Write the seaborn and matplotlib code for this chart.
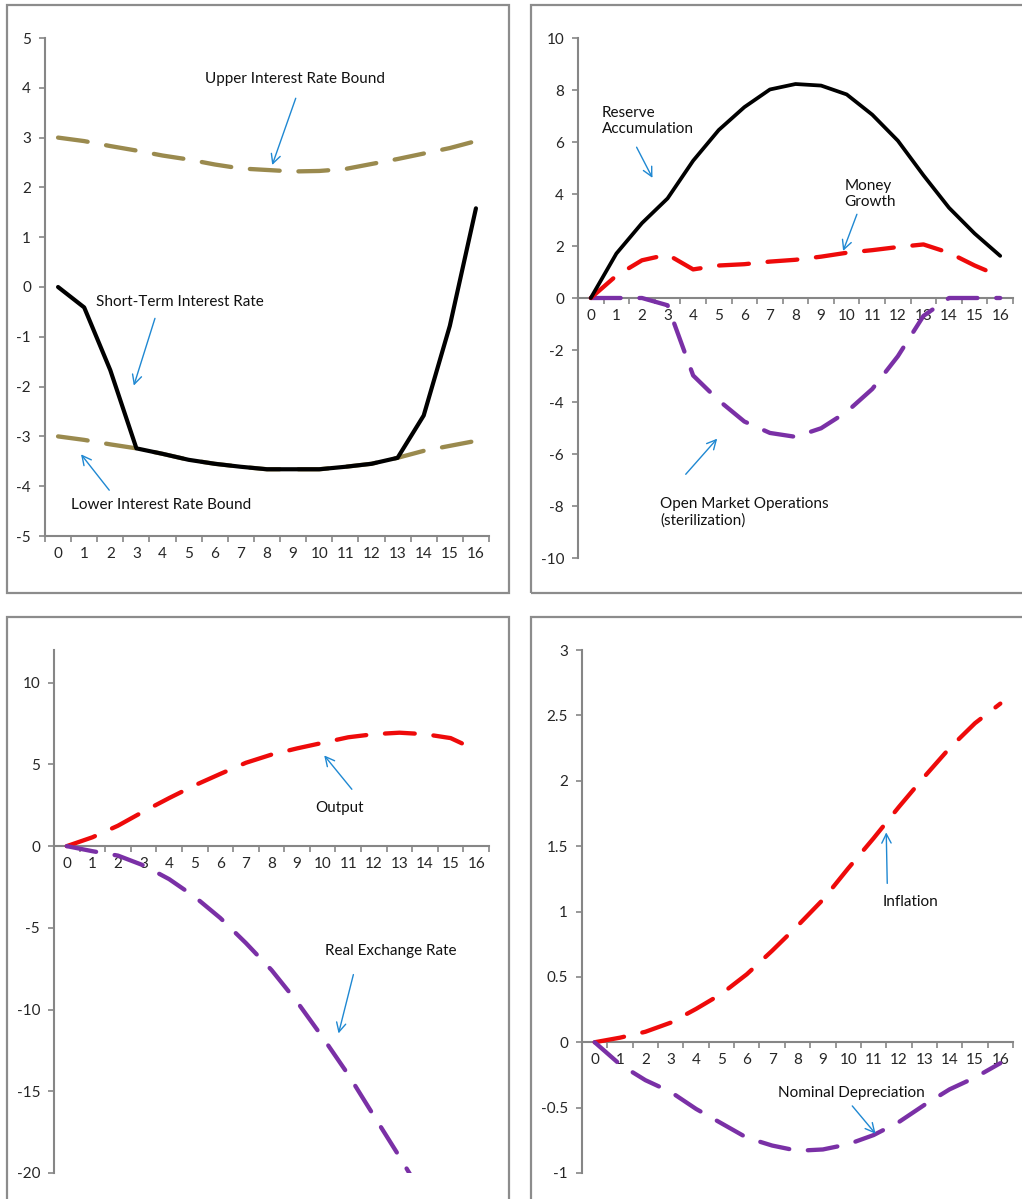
import numpy as np
import pandas as pd
import matplotlib
matplotlib.use("Agg")
import matplotlib.pyplot as plt
from matplotlib.patches import Rectangle
import seaborn as sns

# ---- data -------------------------------------------------------------
periods = list(range(17))

upper_bound = [3.00, 2.93, 2.83, 2.74, 2.64, 2.56, 2.46, 2.38, 2.35, 2.32, 2.33, 2.37, 2.47, 2.57, 2.68, 2.79, 2.93]
lower_bound = [-3.00, -3.07, -3.16, -3.24, -3.35, -3.47, -3.55, -3.61, -3.66, -3.66, -3.66, -3.61, -3.55, -3.43, -3.29, -3.19, -3.09]
short_rate = [0.00, -0.41, -1.67, -3.24, -3.35, -3.47, -3.55, -3.61, -3.66, -3.66, -3.66, -3.61, -3.55, -3.43, -2.58, -0.78, 1.58]

reserves = [0.00, 1.71, 2.88, 3.83, 5.28, 6.46, 7.34, 8.02, 8.23, 8.17, 7.83, 7.05, 6.05, 4.72, 3.47, 2.48, 1.62]
money_growth = [0.00, 0.86, 1.45, 1.67, 1.10, 1.25, 1.30, 1.40, 1.47, 1.59, 1.74, 1.84, 1.96, 2.06, 1.74, 1.25, 0.83]
open_market = [0.00, 0.00, 0.00, -0.28, -2.98, -3.94, -4.75, -5.19, -5.34, -5.01, -4.38, -3.50, -2.24, -0.69, 0.00, 0.00, 0.00]

output = [0.00, 0.54, 1.25, 2.12, 2.94, 3.72, 4.42, 5.10, 5.60, 5.98, 6.32, 6.66, 6.85, 6.94, 6.85, 6.61, 5.88]
real_fx = [0.00, -0.31, -0.58, -1.18, -2.02, -3.10, -4.40, -5.93, -7.58, -9.53, -11.70, -13.98, -16.50, -19.00, -21.60, -24.30, -27.00]

inflation = [0.000, 0.035, 0.080, 0.150, 0.255, 0.370, 0.520, 0.700, 0.890, 1.090, 1.330, 1.560, 1.800, 2.030, 2.250, 2.440, 2.590]
nominal_dep = [0.00, -0.17, -0.29, -0.38, -0.51, -0.62, -0.73, -0.79, -0.83, -0.82, -0.78, -0.71, -0.61, -0.48, -0.36, -0.27, -0.16]

y1_ticks = list(range(-5, 6))
y2_ticks = list(range(-10, 11, 2))
y3_ticks = list(range(-20, 11, 5))
y4_ticks = [-1, -0.5, 0, 0.5, 1, 1.5, 2, 2.5, 3]
y4_labels = ["-1", "-0.5", "0", "0.5", "1", "1.5", "2", "2.5", "3"]

# ---- style ------------------------------------------------------------
sns.set_theme(style="white")
plt.rcParams["font.family"] = ["Lato", "DejaVu Sans"]
plt.rcParams["axes.unicode_minus"] = False
plt.rcParams["lines.scale_dashes"] = False

TAN = "#9a8a4e"
RED = "#ee0a0a"
PURPLE = "#7a30a6"
BLACK = "#000000"
BLUE = "#1f88d2"
AXIS = "#868686"
FS = 11

W, H = 1022, 1199
fig = plt.figure(figsize=(W / 100, H / 100), dpi=100)


def fig_rect(x0, y0, x1, y1):
    """pixel box (top-left origin) -> figure fraction [l, b, w, h]"""
    return [x0 / W, 1 - y1 / H, (x1 - x0) / W, (y1 - y0) / H]


# panel frames
for (x0, y0, x1, y1) in [(7, 5, 509, 593), (531, 5, 1040, 593),
                         (7, 617, 509, 1215), (531, 617, 1040, 1215)]:
    l, b, w, h = fig_rect(x0, y0, x1, y1)
    fig.patches.append(Rectangle((l, b), w, h, transform=fig.transFigure,
                                 fill=False, edgecolor="#8c8c8c", lw=1.6,
                                 zorder=0))

DASH = (0, (21.5, 13.5))


def draw(ax, values, color, dashed, lw=3.1):
    df = pd.DataFrame({"period": periods, "value": values})
    sns.lineplot(data=df, x="period", y="value", ax=ax, color=color,
                 linewidth=lw, legend=False)
    ln = ax.lines[-1]
    ln.set_zorder(3)
    if dashed:
        ln.set_linestyle(DASH)
        ln.set_dash_capstyle("round")
    ln.set_solid_capstyle("round")
    ln.set_solid_joinstyle("round")
    ln.set_dash_joinstyle("round")


def style_axes(ax, yticks, ylim, ylabels=None, zero_axis=True):
    ax.set_xlim(-0.5, 16.5)
    ax.set_ylim(*ylim)
    ax.set_xlabel("")
    ax.set_ylabel("")
    for s in ["top", "right"]:
        ax.spines[s].set_visible(False)
    for s in ["left", "bottom"]:
        ax.spines[s].set_color(AXIS)
        ax.spines[s].set_linewidth(1.5)
    if zero_axis:
        ax.spines["bottom"].set_position(("data", 0))
    ax.set_xticks(np.arange(-0.5, 17, 1))
    ax.set_xticklabels([])
    ax.set_xticks(periods, minor=True)
    ax.set_xticklabels([str(p) for p in periods], minor=True, fontsize=FS)
    ax.tick_params(axis="x", which="major", direction="out", length=4,
                   width=1.2, color=AXIS, bottom=True)
    ax.tick_params(axis="x", which="minor", length=0, pad=8, bottom=True)
    ax.set_yticks(yticks)
    ax.set_yticklabels(ylabels if ylabels else [str(t) for t in yticks],
                       fontsize=FS)
    ax.tick_params(axis="y", direction="out", length=4, width=1.2,
                   color=AXIS, pad=6, left=True)
    ax.set_facecolor("none")
    ax.grid(False)


def note(ax, text, xy, xytext, tx, ty, ha="center"):
    ax.annotate("", xy=xy, xytext=xytext,
                arrowprops=dict(arrowstyle="->,head_length=0.55,head_width=0.28",
                                color=BLUE, lw=1.0, shrinkA=0, shrinkB=0))
    ax.text(tx, ty, text, ha=ha, va="center", fontsize=FS, color="#111111",
            linespacing=1.2)


# ---- panel 1: interest rates -----------------------------------------
ax1 = fig.add_axes(fig_rect(45, 38, 489, 536))
draw(ax1, upper_bound, TAN, True)
draw(ax1, lower_bound, TAN, True)
draw(ax1, short_rate, BLACK, False, lw=3.0)
style_axes(ax1, y1_ticks, (-5, 5), zero_axis=False)
note(ax1, "Upper Interest Rate Bound", (8.2, 2.45), (9.1, 3.79), 9.07, 4.18)
note(ax1, "Short-Term Interest Rate", (2.9, -1.98), (3.71, -0.63), 4.65, -0.31)
note(ax1, "Lower Interest Rate Bound", (0.88, -3.36), (1.96, -4.08), 3.94, -4.37)

# ---- panel 2: reserves, money, sterilization --------------------------
ax2 = fig.add_axes(fig_rect(578, 38, 1013, 558))
draw(ax2, open_market, PURPLE, True)
draw(ax2, money_growth, RED, True)
draw(ax2, reserves, BLACK, False, lw=2.7)
style_axes(ax2, y2_ticks, (-10, 10))
note(ax2, "Reserve\nAccumulation", (2.41, 4.62), (1.79, 5.8), 0.42, 6.81, ha="left")
note(ax2, "Money\nGrowth", (9.86, 1.81), (10.4, 3.22), 9.92, 4.0, ha="left")
note(ax2, "Open Market Operations\n(sterilization)", (4.94, -5.41), (3.71, -6.78),
     2.7, -8.23, ha="left")

# ---- panel 3: output and real exchange rate ---------------------------
ax3 = fig.add_axes(fig_rect(54, 650, 489, 1173))
draw(ax3, output, RED, True)
draw(ax3, real_fx, PURPLE, True)
style_axes(ax3, y3_ticks, (-20, 12))
note(ax3, "Output", (10.06, 5.55), (11.14, 3.48), 10.65, 2.35)
note(ax3, "Real Exchange Rate", (10.62, -11.46), (11.2, -7.86), 12.66, -6.4)

# ---- panel 4: inflation and nominal depreciation ----------------------
ax4 = fig.add_axes(fig_rect(582, 650, 1013, 1173))
draw(ax4, inflation, RED, True)
draw(ax4, nominal_dep, PURPLE, True)
style_axes(ax4, y4_ticks, (-1, 3), ylabels=y4_labels)
note(ax4, "Inflation", (11.5, 1.605), (11.54, 1.215), 12.46, 1.07)
note(ax4, "Nominal Depreciation", (11.08, -0.70), (10.16, -0.487), 10.12, -0.385)

fig.savefig("out.png", dpi=100, facecolor="white")
